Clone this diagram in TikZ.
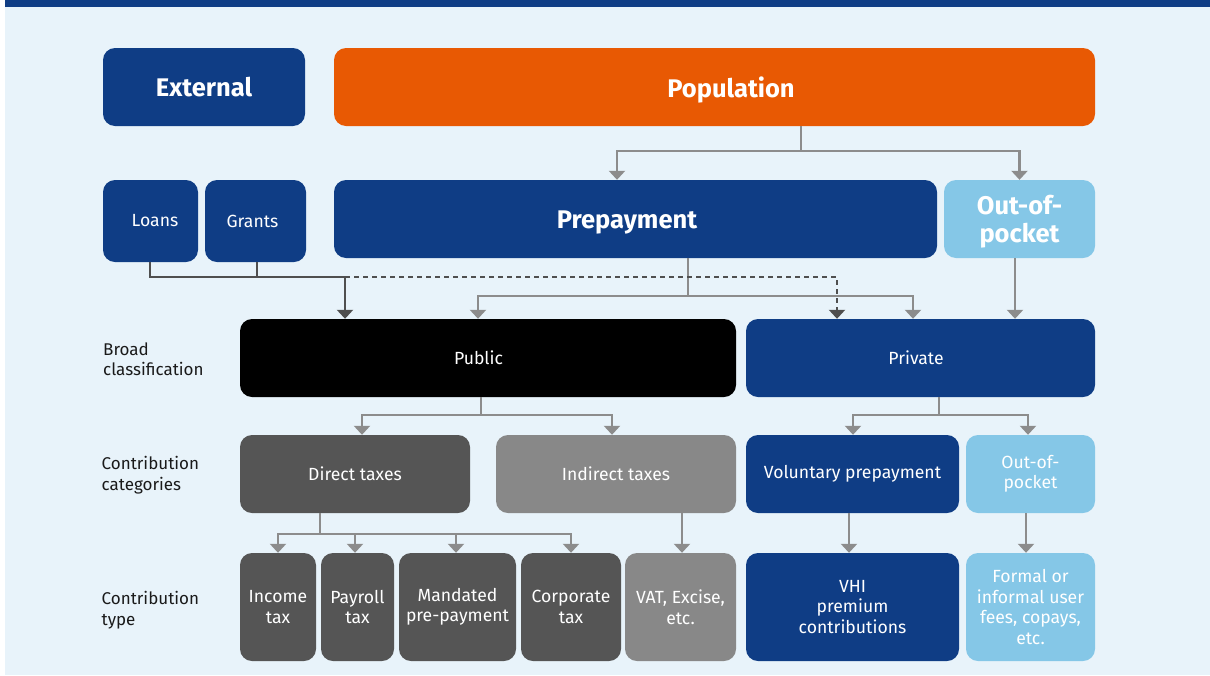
\documentclass[tikz,border=0pt]{standalone}
\usepackage{fontspec}
\setmainfont{Fira Sans}
\usetikzlibrary{arrows.meta}
\definecolor{bgc}{HTML}{E8F3FA}
\definecolor{navy}{HTML}{0F3D85}
\definecolor{porange}{HTML}{E85903}
\definecolor{lblue}{HTML}{85C7E7}
\definecolor{dgray}{HTML}{555555}
\definecolor{mgray}{HTML}{888888}
\definecolor{lineg}{HTML}{8C8C8C}
\definecolor{lined}{HTML}{4F4F4F}
\definecolor{labc}{HTML}{1A1A1A}
\tikzset{
  box/.style={rectangle, rounded corners=12pt, inner sep=0pt, align=center, text=white,
    font=\fontsize{17.6}{20.5}\selectfont},
  bigbox/.style={box, font=\fontsize{25.5}{28}\selectfont\bfseries},
  conn/.style={draw=lineg, line width=2.4pt},
  carrow/.style={conn, -{Triangle[width=16pt,length=9pt]}},
  darrow/.style={draw=lined, line width=2.4pt, -{Triangle[width=16pt,length=9pt]}},
  dashline/.style={draw=lined, line width=2.4pt, dash pattern=on 5pt off 4pt, -{Triangle[width=16pt,length=9pt]}},
  rowlabel/.style={anchor=west, align=left, inner sep=0pt, text=labc,
    font=\fontsize{17}{20.5}\selectfont},
  boxtext/.style={text=white, inner sep=0pt, align=center, font=\fontsize{17.6}{20.5}\selectfont},
  bigtext/.style={text=white, inner sep=0pt, align=center, font=\fontsize{25.5}{28}\selectfont\bfseries}
}
\begin{document}
\begin{tikzpicture}[x=1pt,y=-1pt]
\useasboundingbox (0,0) rectangle (1210,675);
\fill[white] (0,0) rectangle (1210,675);
\fill[bgc] (5,6) rectangle (1210,675);
\fill[navy] (5,0) rectangle (1210,6.5);

% top rows
\node[bigbox, fill=navy, minimum width=202pt, minimum height=78pt] (ext) at (204,87) {External};
\node[bigbox, fill=porange, minimum width=761pt, minimum height=78pt,
  label={[bigtext, xshift=16.5pt, yshift=-2.5pt]center:Population}] (pop) at (714.5,87) {};
\node[box, fill=navy, minimum width=95pt, minimum height=82pt] (loans) at (150.5,221) {\hspace*{9pt}Loans};
\node[box, fill=navy, minimum width=101pt, minimum height=82pt] (grants) at (255.5,221) {Grants\hspace*{6pt}};
\node[bigbox, fill=navy, minimum width=603pt, minimum height=78pt,
  label={[bigtext, xshift=-8.5pt, yshift=-3pt]center:Prepayment}] (prep) at (635.5,219) {};
\node[bigbox, fill=lblue, minimum width=151pt, minimum height=78pt,
  label={[bigtext, yshift=-2.5pt]center:Out-of-\\pocket}] (oop) at (1019.5,219) {};

% broad classification
\node[box, fill=black, minimum width=496pt, minimum height=78pt,
  label={[boxtext, xshift=-9.5pt]center:Public}] (public) at (488,358) {};
\node[box, fill=navy, minimum width=349pt, minimum height=78pt,
  label={[boxtext, xshift=-4.5pt]center:Private}] (private) at (920.5,358) {};

% contribution categories
\node[box, fill=dgray, minimum width=230pt, minimum height=78pt] (direct) at (355,474) {Direct taxes};
\node[box, fill=mgray, minimum width=240pt, minimum height=78pt] (indirect) at (616,474) {Indirect taxes};
\node[box, fill=navy, minimum width=213pt, minimum height=78pt] (vol) at (852.5,474) {Voluntary prepayment};
\node[box, fill=lblue, minimum width=129pt, minimum height=78pt] (oopc) at (1030.5,474) {Out-of-\\pocket};

% contribution types
\node[box, fill=dgray, minimum width=76pt, minimum height=108pt] (income) at (278,607) {Income\\tax};
\node[box, fill=dgray, minimum width=73pt, minimum height=108pt] (payroll) at (357.5,607) {Payroll\\tax};
\node[box, fill=dgray, minimum width=117pt, minimum height=108pt] (mandated) at (457.5,607) {Mandated\\pre-payment};
\node[box, fill=dgray, minimum width=100pt, minimum height=108pt] (corporate) at (571,607) {Corporate\\tax};
\node[box, fill=mgray, minimum width=111pt, minimum height=108pt] (vat) at (680.5,607) {VAT, Excise,\\etc.};
\node[box, fill=navy, minimum width=213pt, minimum height=108pt] (vhi) at (852.5,607) {VHI\\premium\\contributions};
\node[box, fill=lblue, minimum width=129pt, minimum height=108pt] (formal) at (1030.5,607) {Formal or\\informal user\\fees, copays,\\etc.};

% row labels
\node[rowlabel] (lb1) at (103,359) {Broad\\classification};
\node[rowlabel] (lb2) at (101.5,475) {Contribution\\categories};
\node[rowlabel] (lb3) at (101.5,610) {Contribution\\type};

% connectors: population
\coordinate (jp) at (801,151);
\draw[conn] (pop.south -| jp) -- (jp);
\draw[carrow] (jp) -| ([xshift=-18.5pt]prep.north);
\draw[carrow] (jp) -| (oop.north);

% prepayment -> public / private
\coordinate (jq) at (688,296);
\draw[conn] (prep.south -| jq) -- (jq);
\draw[carrow] (jq) -| ([xshift=-10pt]public.north);
\draw[carrow] (jq) -| ([xshift=-7.5pt]private.north);

% external -> public (solid) / private (dashed)
\coordinate (je) at (345,277);
\coordinate (jg) at (257,277);
\draw[draw=lined, line width=2.4pt] ([xshift=-0.5pt]loans.south) |- (je);
\draw[draw=lined, line width=2.4pt] ([xshift=1.5pt]grants.south) -- (jg);
\draw[darrow] (je) -- (public.north -| je);
\draw[dashline] (je) -| ([xshift=-83.5pt]private.north);

% out-of-pocket -> private
\draw[carrow] ([xshift=-4.5pt]oop.south) -- ([xshift=94.5pt]private.north);

% public -> direct / indirect
\coordinate (jr) at (481,415);
\draw[conn] (public.south -| jr) -- (jr);
\draw[carrow] (jr) -| ([xshift=7pt]direct.north);
\draw[carrow] (jr) -| ([xshift=-4pt]indirect.north);

% private -> voluntary / out-of-pocket
\coordinate (js) at (939,415);
\draw[conn] (private.south -| js) -- (js);
\draw[carrow] (js) -| ([xshift=0.5pt]vol.north);
\draw[carrow] (js) -| ([xshift=-2.5pt]oopc.north);

% direct -> types
\coordinate (jt) at (320,534);
\draw[conn] (direct.south -| jt) -- (jt);
\draw[carrow] (jt) -| (income.north);
\draw[carrow] (jt) -| ([xshift=-2.5pt]payroll.north);
\draw[carrow] (jt) -| ([xshift=-1.5pt]mandated.north);
\draw[carrow] (jt) -| (corporate.north);

% indirect -> vat, voluntary -> vhi, oop -> formal
\draw[carrow] ([xshift=66pt]indirect.south) -- ([xshift=1.5pt]vat.north);
\draw[carrow] ([xshift=-3.5pt]vol.south) -- ([xshift=-3.5pt]vhi.north);
\draw[carrow] ([xshift=-4.5pt]oopc.south) -- ([xshift=-4.5pt]formal.north);
\end{tikzpicture}
\end{document}
